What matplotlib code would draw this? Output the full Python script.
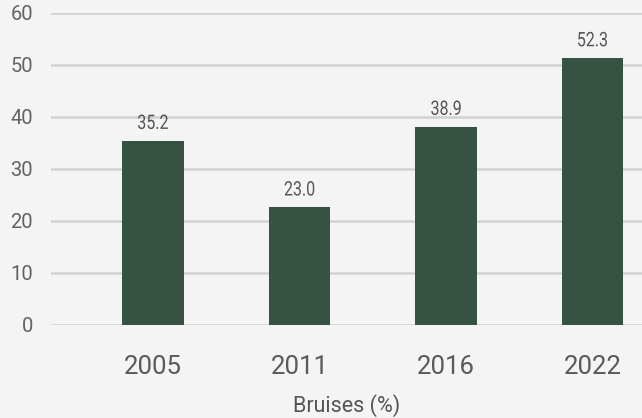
import matplotlib
matplotlib.use("Agg")
import matplotlib.pyplot as plt
from matplotlib.textpath import TextPath
from matplotlib.patches import PathPatch
from matplotlib.font_manager import FontProperties
from matplotlib.transforms import Affine2D, ScaledTranslation

years = ["2005", "2011", "2016", "2022"]
labels = [35.2, 23.0, 38.9, 52.3]
# bar heights as drawn in the picture (slightly off the printed labels)
heights = [35.4, 22.6, 38.1, 51.3]
yticks = [0, 10, 20, 30, 40, 50, 60]

plt.rcParams['font.family'] = ['Roboto', 'DejaVu Sans']

fig = plt.figure(figsize=(6.42, 4.18), dpi=100)
fig.patch.set_facecolor('#f4f4f4')
ax = fig.add_axes([51 / 642, 93 / 418, 591 / 642, 312 / 418])
ax.set_facecolor('#f4f4f4')

x = list(range(len(years)))
bars = ax.bar(x, heights, width=0.42, color='#355243', zorder=3)

ax.set_xlim(-0.696, 3.338)
ax.set_ylim(0, 60)

# condensed-looking value labels: squash Roboto glyph paths horizontally
prop = FontProperties(family='Roboto')
for b, v in zip(bars, labels):
    tp = TextPath((0, 0), "{:.1f}".format(v), size=20, prop=prop)
    ext = tp.get_extents()
    cx = (ext.x0 + ext.x1) / 2
    tr = (Affine2D().translate(-cx, 0).scale(0.8, 1).translate(0, 12)
          + ScaledTranslation(b.get_x() + b.get_width() / 2, b.get_height(), ax.transData))
    ax.add_patch(PathPatch(tp, transform=tr, facecolor='#555555', edgecolor='none',
                           zorder=4, clip_on=False))

ax.set_yticks(yticks)
ax.set_xticks(x)
ax.set_xticklabels(years)
ax.grid(axis='y', color='#d2d2d2', linewidth=1.8, zorder=0)
ax.set_axisbelow(True)
for s in ax.spines.values():
    s.set_visible(False)
ax.tick_params(axis='y', length=0, pad=13, labelsize=14.5, labelcolor='#626262')
ax.tick_params(axis='x', length=0, pad=21.5, labelsize=18.5, labelcolor='#5a5a5a')
ax.set_xlabel("Bruises (%)", fontsize=15.5, color='#555555', labelpad=11)

fig.savefig("out.png", dpi=100, facecolor=fig.get_facecolor())
